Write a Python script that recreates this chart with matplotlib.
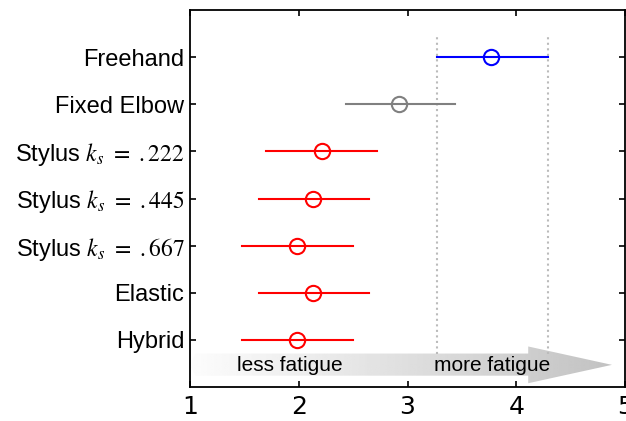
import matplotlib
matplotlib.use('Agg')
import matplotlib.pyplot as plt
import numpy as np
from matplotlib.patches import Polygon

plt.rcParams['mathtext.fontset'] = 'stix'

# data
labels = ['Freehand', 'Fixed Elbow', r'Stylus $k_s\ =\ .222$', r'Stylus $k_s\ =\ .445$',
          r'Stylus $k_s\ =\ .667$', 'Elastic', 'Hybrid']
means = [3.77, 2.92, 2.21, 2.13, 1.98, 2.13, 1.98]
lows = [3.27, 2.43, 1.70, 1.63, 1.48, 1.63, 1.48]
highs = [4.29, 3.44, 2.72, 2.65, 2.50, 2.65, 2.50]
colors = ['#0000ff', '#808080', '#ff0000', '#ff0000', '#ff0000', '#ff0000', '#ff0000']
ypos = [7, 6, 5, 4, 3, 2, 1]

fig = plt.figure(figsize=(6.26, 4.21), dpi=100)
ax = fig.add_axes([190 / 626, 1 - 387 / 421, 435 / 626, 377 / 421])

# gradient arrow
arrow_pts = [(1.05, 0.24), (4.11, 0.24), (4.11, 0.08), (4.88, 0.47),
             (4.11, 0.86), (4.11, 0.71), (1.05, 0.71), (1.0, 0.47)]
arr = Polygon(arrow_pts, closed=True, facecolor='none', edgecolor='none', zorder=1)
ax.add_patch(arr)
grad = np.linspace(0.99, 0.76, 256).reshape(1, -1)
im = ax.imshow(grad, extent=[1.0, 4.9, 0.05, 0.9], cmap='gray', vmin=0, vmax=1,
               aspect='auto', zorder=1)
im.set_clip_path(arr)
ax.text(1.92, 0.45, 'less fatigue', ha='center', va='center', fontsize=15,
        family='Liberation Sans', zorder=3)
ax.text(3.78, 0.45, 'more fatigue', ha='center', va='center', fontsize=15,
        family='Liberation Sans', zorder=3)

# reference lines at freehand interval
for xv in (lows[0], highs[0]):
    ax.plot([xv, xv], [0.7, 7.5], ls=':', color='#bbbbbb', lw=1.5, zorder=2)

for m, lo, hi, c, y in zip(means, lows, highs, colors, ypos):
    ax.plot([lo, hi], [y, y], color=c, lw=1.5, zorder=4)
    ax.plot(m, y, 'o', mfc='none', mec=c, ms=11, mew=1.5, zorder=5)

ax.set_xlim(1, 5)
ax.set_ylim(0, 8)
ax.set_xticks([1, 2, 3, 4, 5])
ax.set_xticklabels(['1', '2', '3', '4', '5'], fontsize=18,
                   family=['Liberation Sans Narrow', 'DejaVu Sans'])
ax.set_yticks(ypos)
ax.set_yticklabels(labels, fontsize=17, family='Liberation Sans')
ax.tick_params(direction='in', length=4, top=True, right=True, width=1.2)
ax.tick_params(axis='x', pad=6)
ax.tick_params(axis='y', pad=4)
for s in ax.spines.values():
    s.set_linewidth(1.3)

fig.savefig('out.png', dpi=100)
